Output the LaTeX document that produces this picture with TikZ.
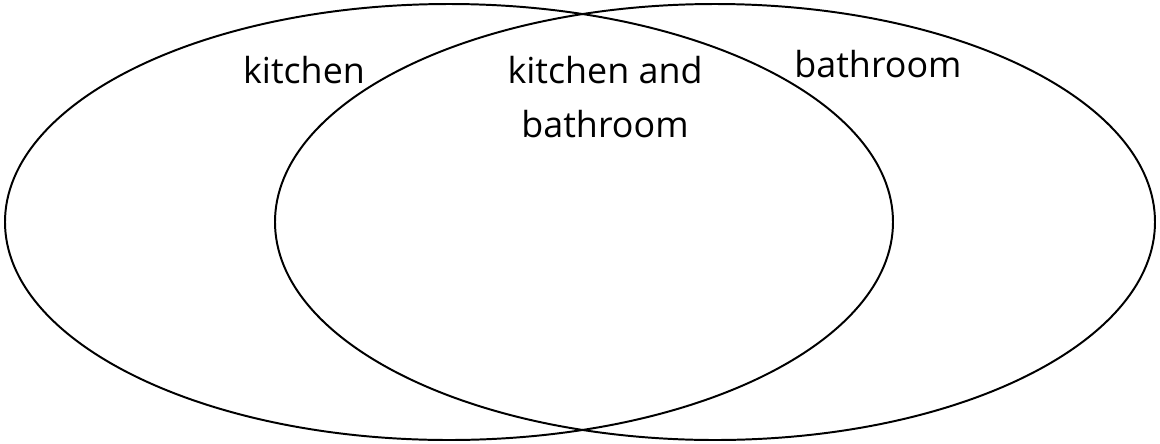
\documentclass[tikz,border=0pt]{standalone}
\usepackage{fontspec}
\setmainfont{Open Sans}
\begin{document}
\begin{tikzpicture}[x=0.025cm,y=-0.025cm,set/.style ={draw=black,line width=1.4pt},lbl/.style ={font=\fontsize{25.5}{38.4}\selectfont,inner sep=0pt,anchor=base,align=center}]
\useasboundingbox (0,0) rectangle (1160,443);

%left set
\draw[set] (449,222) ellipse [x radius=444, y radius=218];

%right set
\draw[set] (715,222) ellipse [x radius=440, y radius=218];

%labels
\node[lbl] (kit) at (304,83) {kitchen};
\node[lbl] (both) at (605,137) {kitchen and\\bathroom};
\node[lbl] (bath) at (878,77) {bathroom};
\end{tikzpicture}
\end{document}
